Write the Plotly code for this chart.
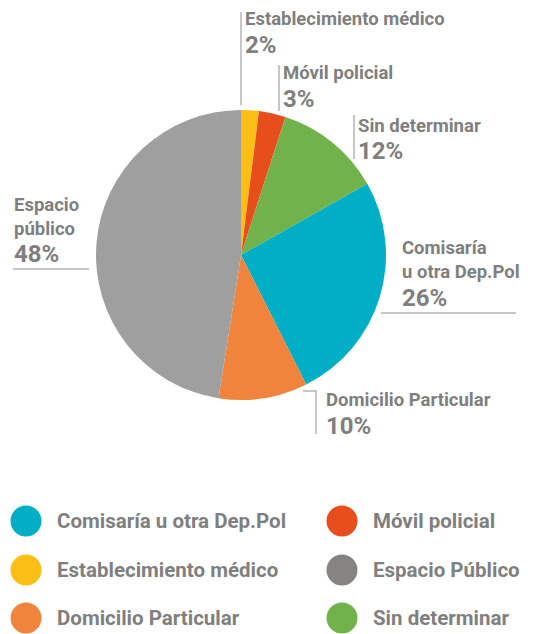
import plotly.graph_objects as go

# Data
categories = ["Establecimiento médico", "Móvil policial", "Sin determinar",
              "Comisaría u otra Dep.Pol", "Domicilio Particular", "Espacio público"]
values = [2, 3, 12, 26, 10, 48]
slice_colors = ["#FBBE14", "#E84E1C", "#72B24A", "#00AFC6", "#F0843C", "#A09F9F"]

legend_labels = ["Comisaría u otra Dep.Pol", "Móvil policial",
                 "Establecimiento médico", "Espacio Público",
                 "Domicilio Particular", "Sin determinar"]
legend_colors = ["#00AFC6", "#E84E1C", "#FBBE14", "#858483", "#F0843C", "#72B24A"]

W, H = 544, 634
FONT = "Roboto"
TXT = "#7F7F7F"
LINE = "#B5B5B5"

fig = go.Figure()

# pie geometry (pixels)
cx, cy, r = 241, 255, 145
fig.add_trace(go.Pie(
    labels=categories, values=values, sort=False, direction="clockwise",
    rotation=0, marker=dict(colors=slice_colors, line=dict(width=0)),
    textinfo="none", hoverinfo="label+percent", showlegend=False,
    domain=dict(x=[(cx - r) / W, (cx + r) / W], y=[1 - (cy + r) / H, 1 - (cy - r) / H]),
))

# Legend built as scatter on pixel axes
lx = [26, 342]
ly = [521, 570, 618]
mx, my = [], []
for i in range(len(legend_labels)):
    mx.append(lx[i % 2]); my.append(ly[i // 2])
fig.add_trace(go.Scatter(
    x=mx, y=my, mode="markers", marker=dict(size=31, color=legend_colors, line=dict(width=0)),
    showlegend=False, hoverinfo="skip", xaxis="x", yaxis="y"))
fig.add_trace(go.Scatter(
    x=[v + 31 for v in mx], y=[v + 1.5 for v in my], mode="text", text=legend_labels,
    textposition="middle right",
    textfont=dict(family=FONT, size=20.5, color=TXT, weight="bold"),
    showlegend=False, hoverinfo="skip", xaxis="x", yaxis="y"))

# Slice labels
pct = [f"{v}%" for v in values]
label_specs = [
    (["Establecimiento médico"], 243, 19, 45, 0),
    (["Móvil policial"], 281, 73, 99, 1),
    (["Sin determinar"], 356, 126, 151, 2),
    (["Comisaría", "u otra Dep.Pol"], 400, 248, 298, 3),
    (["Domicilio Particular"], 324, 400, 426, 4),
    (["Espacio", "público"], 12, 205, 254, 5),
]
annotations = []
for lines, x, y0, yp, idx in label_specs:
    for k, t in enumerate(lines):
        annotations.append(dict(x=x, y=y0 + k * 24, xref="x", yref="y", text=t,
                                showarrow=False, xanchor="left", yanchor="middle",
                                font=dict(family=FONT, size=18.5, color=TXT, weight="bold")))
    annotations.append(dict(x=x, y=yp, xref="x", yref="y", text=pct[idx],
                            showarrow=False, xanchor="left", yanchor="middle",
                            font=dict(family=FONT, size=24, color=TXT, weight="bold")))

# leader lines (pixel coordinates)
leaders = [
    [(241, 12), (241, 105)],
    [(279, 65), (279, 111)],
    [(354, 115), (354, 159)],
    [(381, 313), (516, 313)],
    [(303, 391), (316, 391), (316, 434)],
    [(13, 269), (89, 269)],
]
shapes = []
for pts in leaders:
    path = "M " + " L ".join(f"{px},{py}" for px, py in pts)
    shapes.append(dict(type="path", path=path, xref="x", yref="y",
                       line=dict(color=LINE, width=1.5)))

fig.update_layout(
    width=W, height=H, margin=dict(l=0, r=0, t=0, b=0),
    paper_bgcolor="white", plot_bgcolor="rgba(0,0,0,0)",
    xaxis=dict(range=[0, W], visible=False, fixedrange=True, domain=[0, 1]),
    yaxis=dict(range=[H, 0], visible=False, fixedrange=True, domain=[0, 1]),
    annotations=annotations, shapes=shapes, showlegend=False,
    font=dict(family=FONT),
)
fig.write_html("out.html", config={"displayModeBar": False},
               post_script="document.body.style.margin='0';document.body.style.overflow='hidden';")
